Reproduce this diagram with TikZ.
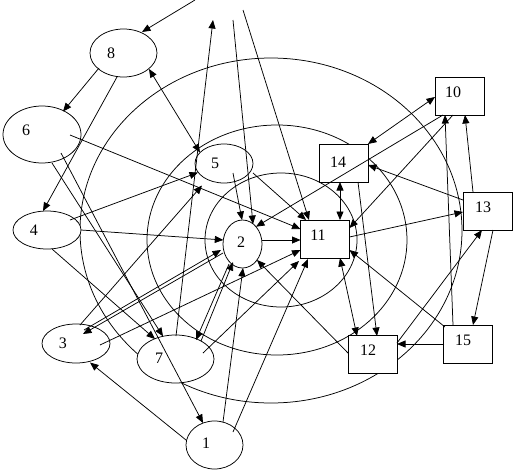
\documentclass[tikz,border=0pt]{standalone}
\usepackage{fontspec}
\setmainfont{Liberation Serif}
\usetikzlibrary{shapes.geometric, arrows.meta, calc}

\begin{document}
\begin{tikzpicture}[x=1pt, y=-1pt,
    ring/.style={line width=0.75pt},
    ell/.style={ellipse, draw, fill=white, line width=0.75pt, inner sep=0pt},
    box/.style={rectangle, draw, fill=white, line width=0.75pt, inner sep=0pt, minimum width=49pt, minimum height=38pt},
    num/.style={font=\fontsize{16}{18}\selectfont, inner sep=0pt},
    arr/.style={-{Triangle[length=8.5pt, width=7pt]}, line width=0.75pt},
    dbl/.style={{Triangle[length=8.5pt, width=7pt]}-{Triangle[length=8.5pt, width=7pt]}, line width=0.75pt}
]
\useasboundingbox (0,0) rectangle (515,472);

% rings
\draw[ring] (281,240) ellipse [x radius=76, y radius=67];
\draw[ring] (277,240) ellipse [x radius=130, y radius=115];
\draw[ring] (271,230.5) ellipse [x radius=191, y radius=172.5];

% ellipse nodes
\node[ell, minimum width=57pt, minimum height=48pt, label={[num, xshift=-8.5pt, yshift=2pt]center:1}] (n1) at (214.5,445) {};
\node[ell, minimum width=39pt, minimum height=48pt, label={[num, xshift=-1.5pt, yshift=2pt]center:2}] (n2) at (242.5,244) {};
\node[ell, minimum width=68pt, minimum height=39pt, label={[num, xshift=-13pt]center:3}] (n3) at (76,343.5) {};
\node[ell, minimum width=68pt, minimum height=38pt, label={[num, xshift=-13pt]center:4}] (n4) at (47,230) {};
\node[ell, minimum width=58pt, minimum height=39pt, label={[num, xshift=-9pt]center:5}] (n5) at (224,163.5) {};
\node[ell, minimum width=78pt, minimum height=57pt, label={[num, xshift=-16pt, yshift=4.5pt]center:6}] (n6) at (42,134.5) {};
\node[ell, minimum width=77pt, minimum height=48pt, label={[num, xshift=-16.5pt, yshift=1pt]center:7}] (n7) at (175.5,359) {};
\node[ell, minimum width=67pt, minimum height=48pt, label={[num, xshift=-12.5pt]center:8}] (n8) at (123.5,53) {};

% box nodes
\node[box, label={[num, xshift=-6.5pt, yshift=4pt]center:10}] (n10) at (459.5,96) {};
\node[box, label={[num, xshift=-7pt, yshift=4pt]center:11}] (n11) at (325,239) {};
\node[box, label={[num, xshift=-4.5pt, yshift=4.5pt]center:12}] (n12) at (372.5,354.5) {};
\node[box, label={[num, xshift=-4.5pt, yshift=4pt]center:13}] (n13) at (487.5,211) {};
\node[box, label={[num, xshift=-5.5pt, yshift=1pt]center:14}] (n14) at (343.5,163) {};
\node[box, label={[num, xshift=-5pt, yshift=4pt]center:15}] (n15) at (468,344) {};

% loose ends at the top
\coordinate (t1) at (195,0);
\coordinate (t2) at (213,20);
\coordinate (t3) at (233,20);
\coordinate (t4) at (243,10);

% connectors
\draw[arr] (t1) -- ($(n8)+(18.5,-21)$);
\draw[arr] ($(n7)+(0.5,-23)$) -- (t2);
\draw[arr] (t3) -- ($(n2)+(10.5,-20)$);
\draw[arr] (t4) -- ($(n11)+(-16,-19)$);

\draw[arr] ($(n8)+(-24.5,15)$) -- ($(n6)+(21,-23)$);
\draw[arr] ($(n8)+(-6.5,24)$) -- ($(n4)+(-4,-19)$);
\draw[dbl] ($(n5)+(-24,-11)$) -- ($(n8)+(25.5,16)$);

\draw[arr] ($(n6)+(28,0.5)$) -- ($(n11)+(-24.5,-10)$);
\draw[arr] ($(n6)+(10,28.5)$) -- ($(n7)+(-12.5,-22.7)$);
\draw[arr] ($(n6)+(19,18.5)$) -- ($(n1)+(-11.5,-22)$);

\draw[arr] ($(n4)+(5,19)$) -- ($(n7)+(-20.5,-20)$);
\draw[arr] ($(n4)+(23,-10)$) -- ($(n5)+(-26,9)$);
\draw[arr] ($(n4)+(34,0)$) -- ($(n2)+(-19.2,-4)$);

\draw[arr] ($(n3)+(4,-18.5)$) -- ($(n5)+(-22,22)$);
\draw[arr] ($(n3)+(8,-13.5)$) -- ($(n2)+(-21.5,6)$);
\draw[arr] ($(n2)+(-19.5,9)$) -- ($(n3)+(7,-9.5)$);
\draw[arr] ($(n3)+(24,1.5)$) -- ($(n11)+(-24.5,11)$);

\draw[arr] ($(n1)+(-28.5,-5)$) -- ($(n3)+(14,19)$);
\draw[arr] ($(n1)+(8.5,-23)$) -- ($(n2)+(0.5,24)$);
\draw[arr] ($(n1)+(18.5,-13)$) -- ($(n11)+(-17,20)$);

\draw[arr] ($(n7)+(27.5,-6)$) -- ($(n11)+(-26,22)$);
\draw[arr] ($(n2)+(-13.5,20)$) -- ($(n7)+(20.5,-19)$);
\draw[arr] ($(n7)+(25.5,-18)$) -- ($(n2)+(-9.5,18)$);

\draw[arr] ($(n5)+(9,9.5)$) -- ($(n2)+(-0.5,-24)$);
\draw[arr] ($(n5)+(29,9.5)$) -- ($(n11)+(-19,-19)$);
\draw[arr] ($(n2)+(19.5,-4)$) -- ($(n11)+(-24.5,1)$);

\draw[arr] ($(n10)+(-16.5,19)$) -- ($(n2)+(13.5,-17.3)$);
\draw[arr] ($(n10)+(-6.5,19)$) -- ($(n11)+(24.5,-11)$);
\draw[dbl] ($(n14)+(24.5,-19)$) -- ($(n10)+(-24.5,1)$);
\draw[arr] ($(n13)+(-24.5,-11)$) -- ($(n14)+(24.5,2)$);
\draw[dbl] ($(n14)+(-3.5,19)$) -- ($(n11)+(15,-19)$);
\draw[arr] ($(n14)+(14.5,19)$) -- ($(n12)+(4.5,-18.5)$);

\draw[arr] ($(n11)+(24.5,-2)$) -- ($(n13)+(-24.5,1)$);
\draw[dbl] ($(n11)+(15,19)$) -- ($(n12)+(-15.5,-18.5)$);
\draw[arr] ($(n15)+(-23,-17)$) -- ($(n11)+(24.5,11)$);
\draw[arr] ($(n15)+(-24,0)$) -- ($(n12)+(24.5,-10.5)$);
\draw[arr] ($(n13)+(5.5,19)$) -- ($(n15)+(5,-19)$);
\draw[arr] ($(n12)+(24.5,-11.5)$) -- ($(n13)+(-5.5,19)$);
\draw[arr] ($(n12)+(-24.5,-1.5)$) -- ($(n2)+(14.5,16)$);
\draw[arr] ($(n15)+(-15,-19)$) -- ($(n10)+(-14.5,19)$);
\draw[arr] ($(n13)+(-14.5,-19)$) -- ($(n10)+(5.5,19)$);

\end{tikzpicture}
\end{document}
